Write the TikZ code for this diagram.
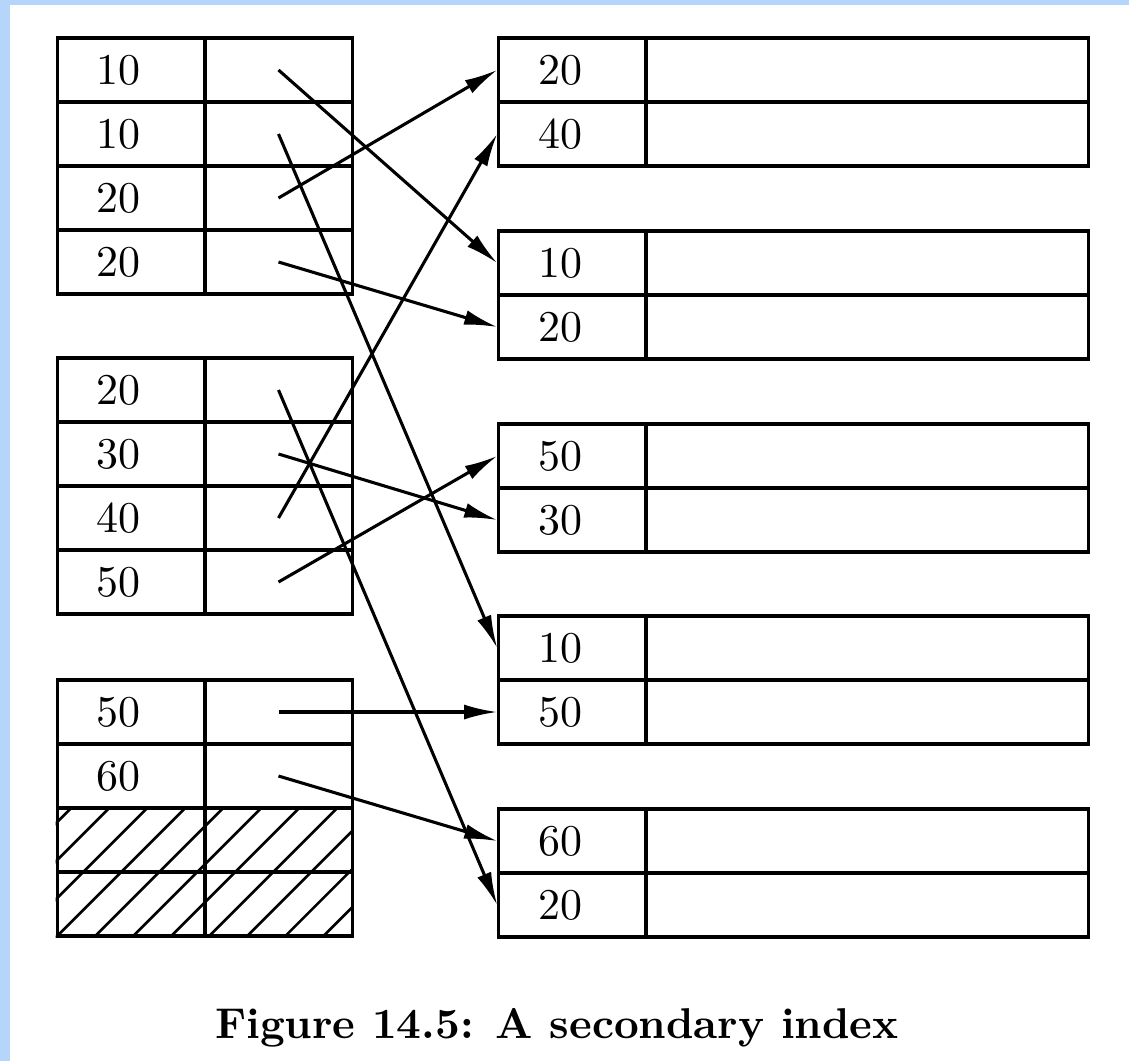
\documentclass[tikz,border=0pt]{standalone}
\usetikzlibrary{arrows.meta}
\definecolor{frameblue}{HTML}{B5D6FA}
\tikzset{
  cell/.style={draw, rectangle, line width=0.7pt, minimum height=0.512cm, inner ysep=0pt},
  keycell/.style={cell, text width=0.55cm, inner xsep=0.315cm, align=left},
  ptrcell/.style={cell, minimum width=1.176cm, inner xsep=0pt},
  datacell/.style={cell, minimum width=3.536cm, inner xsep=0pt},
  ptr/.style={line width=0.7pt, -{Latex[length=7.5pt,width=3.4pt]}},
  hatch/.style={line width=0.6pt},
}
\begin{document}
\begin{tikzpicture}[x=0.008cm, y=-0.008cm]
  \useasboundingbox (0,0) rectangle (1129,1061);
  \fill[white] (0,0) rectangle (1129,1061);
  \fill[frameblue] (0,0) rectangle (10,1061);
  \fill[frameblue] (0,0) rectangle (1129,5);
  %
  % Secondary index blocks:
  \foreach \k [count=\i] in {10,10,20,20}
    {\node[keycell] (l1k\i) at (131, 6+64*\i) {\k};
     \node[ptrcell] (l1p\i) at (278.5, 6+64*\i) {};}
  \foreach \k [count=\i] in {20,30,40,50}
    {\node[keycell] (l2k\i) at (131, 326+64*\i) {\k};
     \node[ptrcell] (l2p\i) at (278.5, 326+64*\i) {};}
  \foreach \k [count=\i] in {50,60,{},{}}
    {\node[keycell] (l3k\i) at (131, 648+64*\i) {\k};
     \node[ptrcell] (l3p\i) at (278.5, 648+64*\i) {};}
  % unused slots
  \begin{scope}
    \clip (l3k3.north west) rectangle (l3p4.south east);
    \foreach \s in {-4,...,8}
      \draw[hatch] ([xshift=\s*0.304cm]l3k4.south west) -- ++(2cm,2cm);
  \end{scope}
  %
  % Data blocks:
  \foreach \blk/\ytop/\ka/\kb in {1/38/20/40, 2/231/10/20, 3/424/50/30, 4/616/10/50, 5/809/60/20}
    {\node[keycell] (r\blk k1) at (572.5, \ytop+32) {\ka};
     \node[keycell] (r\blk k2) at (572.5, \ytop+96) {\kb};
     \node[datacell] (r\blk d1) at (867, \ytop+32) {};
     \node[datacell] (r\blk d2) at (867, \ytop+96) {};}
  %
  % Pointers:
  \foreach \a/\b in {l1p1/r2k1, l1p2/r4k1, l1p3/r1k1, l1p4/r2k2,
                     l2p1/r5k2, l2p2/r3k2, l2p3/r1k2, l2p4/r3k1,
                     l3p1/r4k2, l3p2/r5k1}
    \draw[ptr] (\a.center) -- (\b.west);
  %
  \node[anchor=base, inner sep=0pt] (caption) at (557,1038)
    {\fontsize{9.8}{12}\selectfont\bfseries Figure 14.5: A secondary index};
\end{tikzpicture}
\end{document}
